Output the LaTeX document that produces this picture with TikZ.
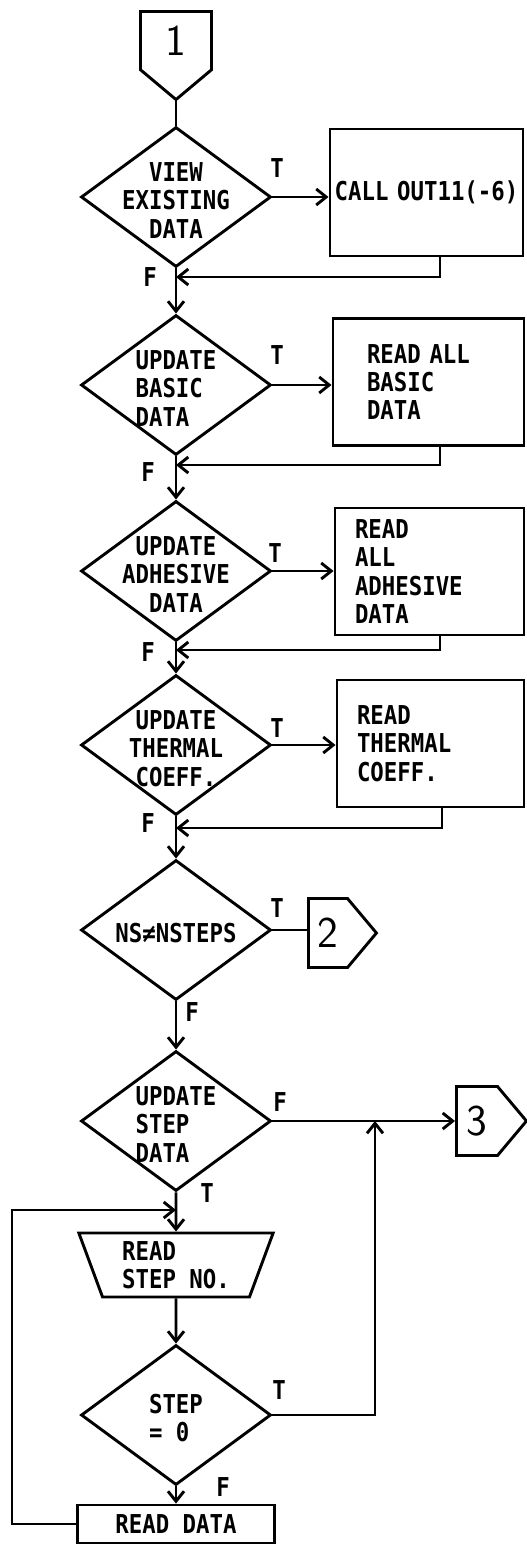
\documentclass[tikz,border=0pt]{standalone}
\usepackage{fontspec}
\setmonofont[FakeStretch=0.86]{DejaVu Sans Mono}
\usetikzlibrary{shapes.geometric,shapes.symbols,arrows.meta}
\newcommand\dtext[2][c]{\smash{\makebox[0pt]{\raisebox{-6.5pt}{\begin{tabular}{@{}#1@{}}#2\end{tabular}}}}}
\begin{document}
\begin{tikzpicture}[x=0.5pt, y=-0.5pt, line width=1.45pt,
    every node/.style={font=\ttfamily\bfseries\fontsize{13}{14.2}\selectfont},
    flow/.style={-{Straight Barb[length=5pt,width=8pt]}},
    dec/.style={draw, diamond, minimum width=95pt, minimum height=70pt, inner sep=0pt},
    proc/.style={draw, rectangle, minimum height=63.5pt, align=left},
    conn/.style={draw, signal, signal pointer angle=100, inner sep=0pt,
      font=\sffamily\fontsize{22}{22}\selectfont},
    lbl/.style={inner sep=0pt}]
    \useasboundingbox (0,0) rectangle (526,1547);
    % 結合子
    \node[conn, signal to=south, minimum width=35.5pt, minimum height=33.5pt, anchor=north] (c1) at (176,10) {1};
    % 判断
    \node[dec] (d1) at (176,197) {\dtext{VIEW\\EXISTING\\DATA}};
    \node[dec] (d2) at (176,385) {\dtext[l]{UPDATE\\BASIC\\DATA}};
    \node[dec] (d3) at (176,571) {\dtext{UPDATE\\ADHESIVE\\DATA}};
    \node[dec] (d4) at (176,745) {\dtext{UPDATE\\THERMAL\\COEFF.}};
    \node[dec] (d5) at (176,930) {\dtext{NS≠NSTEPS}};
    \node[dec] (d6) at (176,1121) {\dtext[l]{UPDATE\\STEP\\DATA}};
    \node[dec] (d7) at (176,1415) {\dtext[l]{STEP\\= 0}};
    % 処理
    \node[proc, minimum width=96.5pt, text width=94.5pt, inner xsep=1pt, align=center] (b1) at (426.5,192.5) {CALL OUT11(-6)};
    \node[proc, text width=61.5pt, inner xsep=17pt] (b2) at (428.5,382) {READ ALL\\BASIC\\DATA};
    \node[proc, text width=74.5pt, inner xsep=10pt] (b3) at (429.5,571.5) {READ\\ALL\\ADHESIVE\\DATA};
    \node[proc, text width=73.5pt, inner xsep=10pt] (b4) at (430.5,743.5) {READ\\THERMAL\\COEFF.};
    \node[conn, signal to=east, minimum width=34pt, minimum height=34.5pt, anchor=west] (c2) at (307,933) {2};
    \node[conn, signal to=east, minimum width=35pt, minimum height=34.5pt, anchor=west] (c3) at (455,1121) {3};
    \node[draw, trapezium, trapezium angle=70, shape border rotate=180, trapezium stretches=true,
      minimum width=97.5pt, minimum height=32pt, inner sep=0pt, align=left] (rs) at (176,1265) {READ\\STEP NO.};
    \node[draw, minimum width=98.5pt, minimum height=19pt] (rd) at (176,1524) {READ DATA};
    % 合流点
    \coordinate (m1) at (176,277);
    \coordinate (m2) at (176,465);
    \coordinate (m3) at (176,650);
    \coordinate (m4) at (176,828);
    \coordinate (j) at (176,1210);
    \coordinate (lp) at (12,1210);
    \coordinate (k) at (375,1121);
    % 流れ線
    \draw (c1.south) -- (d1.north);
    \draw[flow] (d1.east) -- (d1.east -| b1.west);
    \draw[flow] ([xshift=6.75pt]b1.south) |- (m1);
    \draw[flow] (d1.south) -- (d2.north);
    \draw[flow] (d2.east) -- (d2.east -| b2.west);
    \draw[flow] ([xshift=5.75pt]b2.south) |- (m2);
    \draw[flow] (d2.south) -- (d3.north);
    \draw[flow] (d3.east) -- (d3.east -| b3.west);
    \draw[flow] ([xshift=5.25pt]b3.south) |- (m3);
    \draw[flow] (d3.south) -- (d4.north);
    \draw[flow] (d4.east) -- (d4.east -| b4.west);
    \draw[flow] ([xshift=5.75pt]b4.south) |- (m4);
    \draw[flow] (d4.south) -- (d5.north);
    \draw (d5.east) -- (d5.east -| c2.west);
    \draw[flow] (d5.south) -- (d6.north);
    \draw[flow] (d6.east) -- (d6.east -| c3.west);
    \draw[flow] (d6.south) -- (rs.north);
    \draw[flow] (rs.south) -- (d7.north);
    \draw[flow] (d7.east) -| (k);
    \draw[flow] (d7.south) -- (rd.north);
    \draw[flow] (rd.west) -| (lp) -- (j);
    % T/F
    \node[lbl] (t1) at (277,168) {T};
    \node[lbl] (f1) at (150,277) {F};
    \node[lbl] (t2) at (277,355) {T};
    \node[lbl] (f2) at (148,472) {F};
    \node[lbl] (t3) at (275,553) {T};
    \node[lbl] (f3) at (148,652) {F};
    \node[lbl] (t4) at (277,728) {T};
    \node[lbl] (f4) at (148,823) {F};
    \node[lbl] (t5) at (277,908) {T};
    \node[lbl] (f5) at (192,1012) {F};
    \node[lbl] (f6) at (280,1102) {F};
    \node[lbl] (t6) at (207,1193) {T};
    \node[lbl] (t7) at (279,1390) {T};
    \node[lbl] (f7) at (223,1487) {F};
\end{tikzpicture}
\end{document}
